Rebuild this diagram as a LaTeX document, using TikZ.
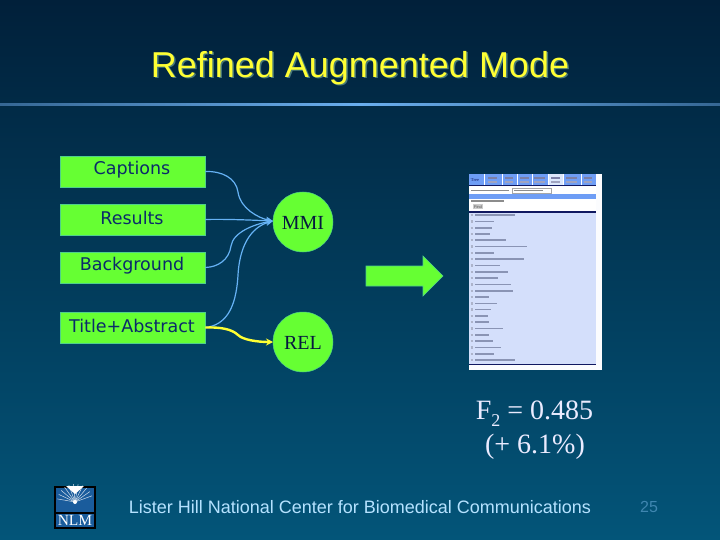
\documentclass[tikz,border=0pt]{standalone}
\usepackage{fontspec}
\setmainfont{Liberation Sans}
\newfontfamily\serifface{Liberation Serif}
\newfontfamily\boxface{DejaVu Sans}
\usetikzlibrary{arrows.meta}
\definecolor{bgtop}{HTML}{01203A}
\definecolor{bgbot}{HTML}{035579}
\definecolor{boxgreen}{HTML}{66FF33}
\definecolor{boxedge}{HTML}{4FD08A}
\definecolor{navytext}{HTML}{0A2A6A}
\definecolor{linkblue}{HTML}{66B2F5}
\definecolor{titleyellow}{HTML}{FFFF33}
\definecolor{titleshadow}{HTML}{4A7A78}
\definecolor{rulemid}{HTML}{6AAEEE}
\definecolor{footblue}{HTML}{B5E2FF}
\definecolor{pagenum}{HTML}{3F86B0}
\definecolor{panel}{HTML}{D4DFFB}
\definecolor{tabblue}{HTML}{6E9DF5}
\definecolor{darkbar}{HTML}{101860}
\definecolor{rowbar}{HTML}{8A94B4}
\definecolor{logoblue}{HTML}{1A5C9C}
\tikzset{
  inbox/.style={draw=boxedge,line width=0.8pt,fill=boxgreen,minimum width=145pt,minimum height=31pt,inner sep=0pt},
  boxtext/.style={text=navytext,font=\boxface\fontsize{17.5}{20}\selectfont,inner sep=0pt},
  engine/.style={circle,draw=boxedge,line width=0.5pt,fill=boxgreen,minimum size=60pt,inner sep=0pt},
  enginetext/.style={text=navytext!60!black,font=\serifface\fontsize{20}{22}\selectfont,inner sep=0pt},
  bluelink/.style={draw=linkblue,line width=1.2pt,-{Stealth[length=7pt,width=6pt]}},
  yellowlink/.style={draw=titleyellow,line width=2.4pt,-{Stealth[length=7pt,width=7pt]}},
  row/.style={draw=rowbar,line width=1.5pt},
  tick/.style={draw=rowbar!70!white,line width=2.4pt},
  resulttext/.style={text=white!92!blue,font=\serifface\fontsize{28}{30}\selectfont,inner sep=0pt},
}
\begin{document}
\begin{tikzpicture}[x=1pt,y=-1pt]
\useasboundingbox (0,0) rectangle (720,540);
\shade[top color=bgtop,bottom color=bgbot] (0,0) rectangle (720,540);
% rule
\shade[left color=bgtop!50!rulemid,right color=rulemid] (0,104) rectangle (360,106);
\shade[left color=rulemid,right color=bgtop!50!rulemid] (360,104) rectangle (720,106);
% title
\node[inner sep=0pt,text=titleshadow,font=\fontsize{36}{40}\selectfont] at (361.5,69.5) {Refined Augmented Mode};
\node[inner sep=0pt,text=titleyellow,font=\fontsize{36}{40}\selectfont] (title) at (360,68) {Refined Augmented Mode};
% input boxes
\node[inbox] (cap) at (132.5,171.5) {};
\node[inbox] (res) at (132.5,219.5) {};
\node[inbox] (bac) at (132.5,267.5) {};
\node[inbox] (tia) at (132.5,327.5) {};
\node[boxtext] (capt) at (132,170) {Captions};
\node[boxtext] (rest) at (132,218) {Results};
\node[boxtext] (bact) at (132,266) {Background};
\node[boxtext] (tiat) at (132,326) {Title+Abstract};
% engines
\node[engine] (mmi) at (303,222) {};
\node[engine] (rel) at (303,342) {};
\node[enginetext] (mmit) at (303,223) {MMI};
\node[enginetext] (relt) at (303,343) {REL};
% connectors
\coordinate (cin) at (273,221);
\coordinate (rin) at (273,342);
\draw[bluelink] (cap.east) .. controls (222,171) and (236,178) .. (238,192) .. controls (240,208) and (258,218) .. (cin);
\draw[bluelink] (res.east) .. controls (225,219) and (250,220) .. (cin);
\draw[bluelink] (bac.east) .. controls (218,267) and (229,260) .. (231,246) .. controls (233,232) and (255,224) .. (cin);
\draw[bluelink] (tia.east) .. controls (225,325) and (236,310) .. (238,275) .. controls (240,240) and (255,226) .. (cin);
\draw[yellowlink] (tia.east) .. controls (220,327) and (232,329) .. (238,335) .. controls (243,340) and (258,342) .. (rin);
% big arrow
\fill[boxgreen,draw=boxedge,line width=0.6pt] (366,266) -- (423,266) -- (423,256) -- (443,276) -- (423,296) -- (423,286) -- (366,286) -- cycle;
% screenshot
\fill[white!90!panel] (469,174) rectangle (602,370);
\fill[panel] (469,212) rectangle (596,365);
\fill[white] (469,187) rectangle (596,194);
\fill[tabblue] (469,174) rectangle (596,185);
\fill[tabblue] (469,194) rectangle (596,199);
\fill[white] (469,199) rectangle (596,212);
\fill[white!75!tabblue] (548,174) rectangle (563,185);
\draw[white,line width=0.4pt] (484,174) -- (484,185) (502,174) -- (502,185) (517,174) -- (517,185) (532,174) -- (532,185) (548,174) -- (548,185) (563,174) -- (563,185) (581,174) -- (581,185);
\fill[darkbar] (469,185) rectangle (596,186);
\fill[darkbar] (469,211.5) rectangle (596,212.8);
\fill[darkbar] (469,363.5) rectangle (596,365);
\node[inner sep=0pt,text=darkbar,font=\serifface\fontsize{4.5}{5}\selectfont] (tabone) at (475,180) {Tree};
\node[inner sep=0pt,text=black!70,font=\fontsize{4}{5}\selectfont,fill=black!20,minimum width=10pt,minimum height=5pt] (findbtn) at (478,207) {Find};
\foreach \xa/\xb in {488/497,505/513,520/529,534/545,551/560,566/577,584/592}{
  \draw[darkbar!55,line width=1.3pt] (\xa,178) -- (\xb,178);
  \draw[darkbar!40,line width=1.3pt] (\xa,182) -- (\xb,182);
}
\draw[black!45,line width=1.3pt] (471,190.5) -- (509,190.5);
\draw[black!35,line width=0.5pt] (512,188) rectangle (551,193);
\draw[black!45,line width=1.3pt] (514,190.5) -- (543,190.5);
\draw[black!45,line width=1.3pt] (471,201) -- (504,201);
\foreach \yy/\ln in {215/40,221.5/19,228/17,234/15,240/31,246.5/52,253/19,259/49,265.5/25,272/33,278/23,284.5/36,291/38,297/14,303.5/22,309.5/16,316/13,322/14,328.5/28,335/14,341/18,347.5/26,354/19,360/40}{
  \draw[tick] (470.5,\yy) -- (473,\yy);
  \draw[row] (475,\yy) -- +(\ln,0);
}
% result
\node[resulttext] (fone) at (534.5,414) {F\raisebox{-0.25em}{\fontsize{18}{18}\selectfont 2} = 0.485};
\node[resulttext] (ftwo) at (535,447) {(+ 6.1\%)};
% footer
\node[inner sep=0pt,text=footblue,font=\fontsize{18}{20}\selectfont] (foot) at (360,507.5) {Lister Hill National Center for Biomedical Communications};
\node[inner sep=0pt,text=pagenum,font=\fontsize{16}{18}\selectfont] (pg) at (649,507) {25};
% logo
\fill[black] (54,486) rectangle (96,529);
\fill[logoblue] (56,488) rectangle (94,512);
\foreach \ang in {-170,-155,...,-10}{
  \draw[white!80!logoblue,line width=0.5pt] (75,502) -- +({\ang}:{18});
}
\fill[white] (66,486) -- (84,486) -- (75,494) -- cycle;
\fill[white] (75,502) circle (2pt);
\fill[logoblue] (56,514) rectangle (94,527);
\fill[black] (54,512) rectangle (96,514);
\node[inner sep=0pt,text=white,font=\serifface\fontsize{15.5}{16}\selectfont] (nlm) at (75,520.5) {NLM};
\end{tikzpicture}
\end{document}
